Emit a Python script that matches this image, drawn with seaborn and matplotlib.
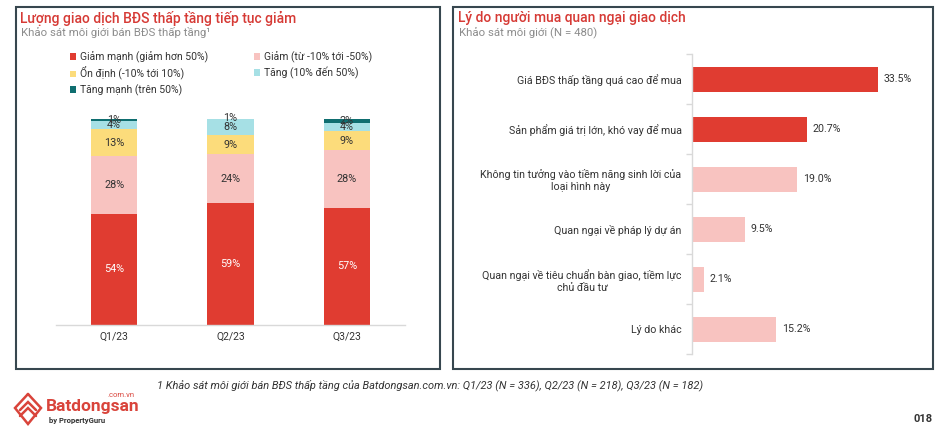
import matplotlib
matplotlib.use("Agg")
import matplotlib.pyplot as plt
import seaborn as sns
import numpy as np
from matplotlib.patches import Rectangle, Patch
from matplotlib.lines import Line2D

# ---------------- data ----------------
quarters = ["Q1/23", "Q2/23", "Q3/23"]
giam_manh = [54, 59, 57]
giam = [28, 24, 28]
on_dinh = [13, 9, 9]
tang = [4, 8, 4]
tang_manh = [1, 1, 2]
series_names = ["Giảm mạnh (giảm hơn 50%)", "Giảm (từ -10% tới -50%)",
                "Ổn định (-10% tới 10%)", "Tăng (10% đến 50%)", "Tăng mạnh (trên 50%)"]

reasons = ["Giá BĐS thấp tầng quá cao để mua",
           "Sản phẩm giá trị lớn, khó vay để mua",
           "Không tin tưởng vào tiềm năng sinh lời của\nloại hình này",
           "Quan ngại về pháp lý dự án",
           "Quan ngại về tiêu chuẩn bàn giao, tiềm lực\nchủ đầu tư",
           "Lý do khác"]
reason_values = [33.5, 20.7, 19.0, 9.5, 2.1, 15.2]

# ---------------- style ----------------
sns.set_theme(style="white")
plt.rcParams["font.family"] = ["Roboto", "DejaVu Sans"]

RED = "#E03C31"
PINK = "#F8C3C0"
YELLOW = "#FCDC7B"
CYAN = "#A6E0E5"
TEAL = "#0F6E70"
TXT = "#333333"
GRID = "#D9D9D9"
BORDER = "#37474F"
seg_colors = [RED, PINK, YELLOW, CYAN, TEAL]

W, H = 951, 429
fig = plt.figure(figsize=(W / 100, H / 100), dpi=100)
fig.patch.set_facecolor("white")


def fx(px):
    return px / W


def fy(py):
    return 1 - py / H


# panel borders
for x0, x1 in [(16, 440), (453, 933)]:
    fig.add_artist(Rectangle((fx(x0), fy(369)), fx(x1) - fx(x0), fy(7) - fy(369),
                             transform=fig.transFigure, fill=False,
                             edgecolor=BORDER, linewidth=1.5))

# ---------------- left chart ----------------
ax1 = fig.add_axes([fx(56), fy(325), fx(405) - fx(56), fy(119) - fy(325)])
series = [giam_manh, giam, on_dinh, tang, tang_manh]
bottom = np.zeros(len(quarters))
for vals, col in zip(series, seg_colors):
    sns.barplot(x=quarters, y=vals, color=col, width=0.4, saturation=1,
                bottom=bottom.copy(), ax=ax1, order=quarters,
                linewidth=0, edgecolor="none")
    for i, v in enumerate(vals):
        ax1.text(i, bottom[i] + v / 2, f"{v}%", ha="center", va="center",
                 fontsize=7.8, color="white" if col == RED else TXT, clip_on=False)
    bottom += np.array(vals)

ax1.set_ylim(0, 100)
ax1.set_xlim(-0.5, 2.5)
ax1.set_yticks([])
ax1.set_xlabel("")
ax1.set_ylabel("")
for s in ["top", "right", "left"]:
    ax1.spines[s].set_visible(False)
ax1.spines["bottom"].set_color(GRID)
ax1.spines["bottom"].set_linewidth(1)
ax1.tick_params(axis="x", length=0, pad=5, labelsize=7.5, labelcolor=TXT)

fig.text(fx(20), fy(18), "Lượng giao dịch BĐS thấp tầng tiếp tục giảm",
         fontsize=10, color="#D63A35", ha="left", va="center", fontweight="medium")
fig.text(fx(21), fy(33), "Khảo sát môi giới bán BĐS thấp tầng¹",
         fontsize=8.2, color="#8C8C8C", ha="left", va="center")

handles = [Patch(facecolor=c, edgecolor="none") for c in seg_colors]
order = [0, 2, 4, 1, 3]
fig.legend([handles[i] for i in order], [series_names[i] for i in order],
           loc="upper left", bbox_to_anchor=(fx(65), fy(46)), ncol=2, frameon=False,
           fontsize=7.5, handlelength=0.6, handleheight=0.6, handletextpad=0.35,
           columnspacing=4.4, labelspacing=0.38, borderpad=0, labelcolor=TXT)

# ---------------- right chart ----------------
ax2 = fig.add_axes([fx(692), fy(354), fx(914) - fx(692), fy(54) - fy(354)])
bar_cols = [RED, RED, PINK, PINK, PINK, PINK]
sns.barplot(x=reason_values, y=reasons, hue=reasons, palette=bar_cols, legend=False,
            orient="h", width=0.5, saturation=1, ax=ax2, linewidth=0, edgecolor="none")
ax2.set_xlim(0, 40)
ax2.set_ylim(5.5, -0.5)
ax2.set_xticks([])
ax2.set_xlabel("")
ax2.set_ylabel("")
for s in ["top", "right", "bottom"]:
    ax2.spines[s].set_visible(False)
ax2.spines["left"].set_color(GRID)
ax2.spines["left"].set_linewidth(1)
ax2.set_yticks(np.arange(-0.5, 6, 1), minor=True)
ax2.tick_params(axis="y", which="minor", left=True, length=4, color=GRID, width=1)
ax2.tick_params(axis="y", which="major", length=0, pad=7.5, labelsize=7.7, labelcolor=TXT)
for lbl in ax2.get_yticklabels():
    lbl.set_multialignment("center")
for i, v in enumerate(reason_values):
    ax2.annotate(f"{v:.1f}%", xy=(v, i), xytext=(4, 0), textcoords="offset points",
                 ha="left", va="center", fontsize=7.7, color=TXT)

fig.text(fx(458), fy(18), "Lý do người mua quan ngại giao dịch",
         fontsize=10, color="#D63A35", ha="left", va="center", fontweight="medium")
fig.text(fx(459), fy(33), "Khảo sát môi giới (N = 480)",
         fontsize=8.2, color="#8C8C8C", ha="left", va="center")

# ---------------- footer ----------------
fig.text(fx(157), fy(385),
         "1 Khảo sát môi giới bán BĐS thấp tầng của Batdongsan.com.vn: Q1/23 (N = 336), Q2/23 (N = 218), Q3/23 (N = 182)",
         fontsize=7.9, style="italic", color=TXT, ha="left", va="center")
fig.text(fx(933), fy(419), "018", fontsize=8, fontweight="bold", color=TXT,
         ha="right", va="center")

# logo
logo_red = "#D9443B"
icon = [
    [(28, 394), (41, 408), (28, 424), (15, 408), (28, 394)],
    [(20, 410), (28, 402), (36, 410)],
    [(20, 416), (28, 408), (36, 416)],
]
for pts in icon:
    xs = [fx(p[0]) for p in pts]
    ys = [fy(p[1]) for p in pts]
    fig.add_artist(Line2D(xs, ys, transform=fig.transFigure, color=logo_red,
                          linewidth=1.8, solid_joinstyle="miter"))
fig.text(fx(46), fy(406), "Batdongsan", fontsize=12.5, fontweight="bold",
         color=logo_red, ha="left", va="center")
fig.text(fx(135), fy(395), ".com.vn", fontsize=5.5, color=logo_red,
         ha="right", va="center")
fig.text(fx(49), fy(420), "by PropertyGuru", fontsize=5.5, fontweight="bold",
         color=TXT, ha="left", va="center")

fig.savefig("out.png", dpi=100, facecolor="white")
